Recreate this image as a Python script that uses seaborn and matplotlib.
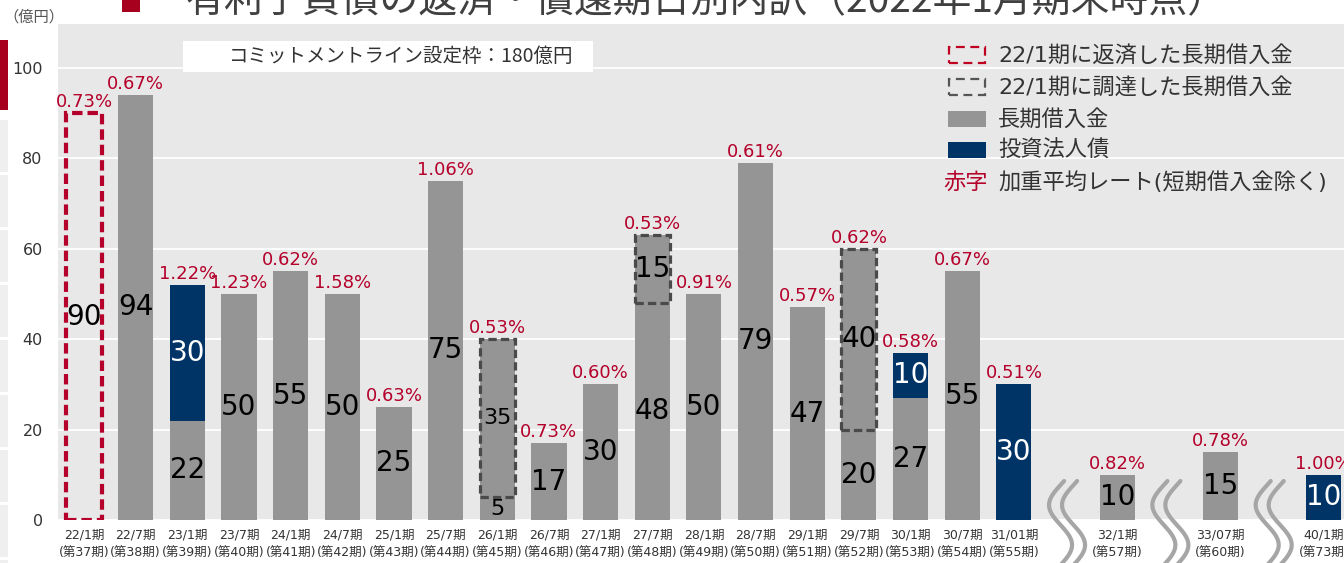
import matplotlib
matplotlib.use("Agg")
import matplotlib.pyplot as plt
import numpy as np
import pandas as pd
import seaborn as sns
from matplotlib import transforms
from matplotlib.patches import Rectangle

# --- data (億円) ---
periods = ["22/1期", "22/7期", "23/1期", "23/7期", "24/1期", "24/7期", "25/1期",
           "25/7期", "26/1期", "26/7期", "27/1期", "27/7期", "28/1期", "28/7期",
           "29/1期", "29/7期", "30/1期", "30/7期", "31/01期", "32/1期", "33/07期",
           "40/1期"]
terms = ["(第37期)", "(第38期)", "(第39期)", "(第40期)", "(第41期)", "(第42期)",
         "(第43期)", "(第44期)", "(第45期)", "(第46期)", "(第47期)", "(第48期)",
         "(第49期)", "(第50期)", "(第51期)", "(第52期)", "(第53期)", "(第54期)",
         "(第55期)", "(第57期)", "(第60期)", "(第73期)"]
positions = [0, 1, 2, 3, 4, 5, 6, 7, 8, 9, 10, 11, 12, 13, 14, 15, 16, 17, 18,
             20, 22, 24]
loans = [0, 94, 22, 50, 55, 50, 25, 75, 5, 17, 30, 48, 50, 79, 47, 20, 27, 55,
         0, 10, 15, 0]
new_loans = [0, 0, 0, 0, 0, 0, 0, 0, 35, 0, 0, 15, 0, 0, 0, 40, 0, 0, 0, 0, 0, 0]
bonds = [0, 0, 30, 0, 0, 0, 0, 0, 0, 0, 0, 0, 0, 0, 0, 0, 10, 0, 30, 0, 0, 10]
repaid = [90, 0, 0, 0, 0, 0, 0, 0, 0, 0, 0, 0, 0, 0, 0, 0, 0, 0, 0, 0, 0, 0]
rates = ["0.73%", "0.67%", "1.22%", "1.23%", "0.62%", "1.58%", "0.63%", "1.06%",
         "0.53%", "0.73%", "0.60%", "0.53%", "0.91%", "0.61%", "0.57%", "0.62%",
         "0.58%", "0.67%", "0.51%", "0.82%", "0.78%", "1.00%"]
break_positions = [19, 21, 23]

GREY = "#959595"
NAVY = "#003467"
RED = "#b4002a"
DARK = "#4a4a4a"
TEXT = "#333333"
CJK = ["Noto Sans CJK JP", "DejaVu Sans"]
W, H = 1344, 563
XMIN, XMAX = -0.503, 24.39
SMALL_LABEL_POS = {8}

sns.set_theme(style="darkgrid", rc={"axes.facecolor": "#e8e8e8",
                                    "grid.color": "white",
                                    "grid.linewidth": 1.3})
plt.rcParams["font.family"] = ["DejaVu Sans", "Noto Sans CJK JP"]

df = pd.DataFrame({"pos": positions, "loans": loans, "new": new_loans,
                   "bonds": bonds, "repaid": repaid, "rate": rates})
df["grey_top"] = df["loans"] + df["new"]
df["total"] = df["grey_top"] + df["bonds"]

fig = plt.figure(figsize=(W / 100, H / 100), dpi=100)
fig.patch.set_facecolor("white")
ax = fig.add_axes([58 / W, 43 / H, (W - 58) / W, 496 / H])


def fig_rect(x, y, w, h, **kw):
    """Rectangle in figure pixels, origin top-left."""
    fig.add_artist(Rectangle((x / W, 1 - (y + h) / H), w / W, h / H,
                             transform=fig.transFigure, **kw))


# bars: navy total first, grey part drawn over it
sns.barplot(data=df, x="pos", y="total", native_scale=True, color=NAVY,
            saturation=1, width=0.68, linewidth=0, ax=ax)
sns.barplot(data=df, x="pos", y="grey_top", native_scale=True, color=GREY,
            saturation=1, width=0.68, linewidth=0, ax=ax)

has_new = df[df["new"] > 0]
ax.bar(has_new["pos"], has_new["new"], bottom=has_new["loans"], width=0.68,
       fill=False, edgecolor=DARK, linewidth=2.3, linestyle=(0, (2.6, 1.3)),
       zorder=3)
has_repaid = df[df["repaid"] > 0]
ax.bar(has_repaid["pos"], has_repaid["repaid"], width=0.68, fill=False,
       edgecolor=RED, linewidth=3, linestyle=(0, (2.5, 1.2)), zorder=3)

# value labels
for row in df.itertuples():
    size = 16 if row.pos in SMALL_LABEL_POS else 20
    if row.loans:
        ax.text(row.pos, row.loans / 2, str(row.loans), ha="center",
                va="center", fontsize=size, color="black", zorder=4)
    if row.new:
        ax.text(row.pos, row.loans + row.new / 2, str(row.new), ha="center",
                va="center", fontsize=size, color="black", zorder=4)
    if row.bonds:
        ax.text(row.pos, row.grey_top + row.bonds / 2, str(row.bonds),
                ha="center", va="center", fontsize=size, color="white",
                zorder=4)
    if row.repaid:
        ax.text(row.pos, row.repaid / 2, str(row.repaid), ha="center",
                va="center", fontsize=size, color="black", zorder=4)
    ax.annotate(row.rate, (row.pos, max(row.total, row.repaid)),
                xytext=(0, 1.5), textcoords="offset points", ha="center",
                va="bottom", color=RED, fontsize=13, zorder=4)

# axes
ax.set_xlim(XMIN, XMAX)
ax.set_ylim(0, 109.7)
ax.set_xticks(positions, [f"{p}\n{t}" for p, t in zip(periods, terms)],
              fontsize=9, color=TEXT, linespacing=1.55)
ax.set_yticks(range(0, 101, 20))
ax.tick_params(axis="x", length=0, pad=6)
ax.tick_params(axis="y", length=0, pad=11, labelsize=11.5, labelcolor=TEXT)
ax.grid(axis="x", visible=False)
ax.set_xlabel("")
ax.set_ylabel("")
for spine in ax.spines.values():
    spine.set_visible(False)

# wavy axis breaks
unit = (W - 58) / (XMAX - XMIN)
trans = transforms.blended_transform_factory(ax.transData, fig.transFigure)
yy = np.linspace(481, 580, 120)
wave = np.cos(2 * np.pi * (yy - 465) / 80)
for b in break_positions:
    for shift in (-5, 8):
        ax.plot(b + (shift + 11.5 * wave) / unit, 1 - yy / H, transform=trans,
                color="#a6a6a6", lw=3, clip_on=False, solid_capstyle="round",
                zorder=5)

# commitment line box
fig_rect(183, 41, 410, 31, facecolor="white", edgecolor="none", zorder=2)
fig.text(401 / W, 1 - 56 / H, "コミットメントライン設定枠：180億円",
         ha="center", va="center", fontsize=14, color=TEXT, zorder=3,
         family=CJK)

# legend
rows_y = [55, 87, 119, 150, 182]
fig_rect(949, rows_y[0] - 8, 36, 16, facecolor="none", edgecolor="#c00020",
         linewidth=1.6, linestyle=(0, (4, 2.5)), zorder=3)
fig_rect(949, rows_y[1] - 8, 36, 16, facecolor="none", edgecolor="#555555",
         linewidth=1.6, linestyle=(0, (4, 2.5)), zorder=3)
fig_rect(948, rows_y[2] - 8, 38, 16, facecolor=GREY, edgecolor="none", zorder=3)
fig_rect(948, rows_y[3] - 8, 38, 16, facecolor=NAVY, edgecolor="none", zorder=3)
legend_labels = ["22/1期に返済した長期借入金", "22/1期に調達した長期借入金",
                 "長期借入金", "投資法人債", "加重平均レート(短期借入金除く)"]
for y, label in zip(rows_y, legend_labels):
    fig.text(998 / W, 1 - y / H, label, ha="left", va="center", fontsize=16,
             color=TEXT, zorder=3)
fig.text(943 / W, 1 - rows_y[4] / H, "赤字", ha="left", va="center",
         fontsize=16, color=RED, zorder=3)

# slide decorations
fig.text(185 / W, 1 - 1 / H, "有利子負債の返済・償還期日別内訳（2022年1月期末時点）",
         ha="left", va="center", fontsize=28, color="#404040", family=CJK)
fig_rect(122, -6, 18, 18, facecolor="#a6001e", edgecolor="none")
fig.text(3 / W, 1 - 17 / H, "（億円）", ha="left", va="center", fontsize=11,
         color="#555555", family=CJK)
fig_rect(0, 40, 8, 70, facecolor="#a6001e", edgecolor="none")
for top in range(118, H, 55):
    fig_rect(0, top + 2, 8, 52, facecolor="#efefef", edgecolor="none")

fig.savefig("out.png", dpi=100)
